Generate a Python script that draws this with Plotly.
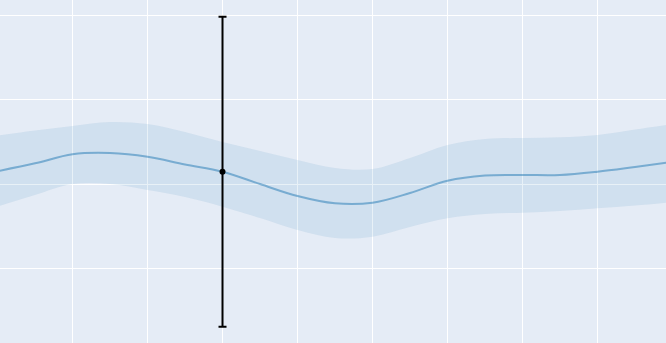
import plotly.graph_objects as go

x_vals = [0, 0.5, 1, 1.5, 2, 2.5, 3, 3.5, 4, 4.5, 5, 5.5, 6, 6.5, 7, 7.5, 8, 8.5, 9]
mean_vals = [0.154, 0.247, 0.354, 0.369, 0.325, 0.233, 0.148, 0.002, -0.140, -0.226,
             -0.219, -0.104, 0.041, 0.103, 0.109, 0.109, 0.148, 0.204, 0.263]
upper_vals = [0.576, 0.636, 0.689, 0.736, 0.712, 0.618, 0.499, 0.393, 0.286, 0.192,
              0.180, 0.310, 0.464, 0.535, 0.547, 0.555, 0.582, 0.647, 0.712]
lower_vals = [-0.264, -0.128, 0.002, 0.002, -0.069, -0.151, -0.266, -0.400, -0.542, -0.637,
              -0.621, -0.507, -0.404, -0.353, -0.337, -0.317, -0.285, -0.252, -0.211]

point_x = [3]
point_y = [0.148]
point_err = [1.835]

fig = go.Figure()
fig.add_trace(go.Scatter(x=x_vals, y=upper_vals, mode="lines",
                         line=dict(width=0, shape="spline"), showlegend=False, hoverinfo="skip"))
fig.add_trace(go.Scatter(x=x_vals, y=lower_vals, mode="lines",
                         line=dict(width=0, shape="spline"), fill="tonexty",
                         fillcolor="rgba(31,119,180,0.1)", showlegend=False, hoverinfo="skip"))
fig.add_trace(go.Scatter(x=x_vals, y=mean_vals, mode="lines",
                         line=dict(color="rgba(31,119,180,0.5)", width=2, shape="spline"),
                         showlegend=False))
fig.add_trace(go.Scatter(x=point_x, y=point_y, mode="markers",
                         marker=dict(color="black", size=6),
                         error_y=dict(type="data", array=point_err, color="black",
                                      thickness=2, width=4),
                         showlegend=False))

fig.update_layout(
    width=666, height=343,
    margin=dict(l=0, r=0, t=0, b=0),
    plot_bgcolor="#E5ECF6", paper_bgcolor="#E5ECF6",
    xaxis=dict(range=[0.0333, 8.913], dtick=1, tick0=0, showticklabels=False,
               gridcolor="white", gridwidth=1, zeroline=False, ticks=""),
    yaxis=dict(range=[-1.879, 2.180], dtick=1, tick0=0, showticklabels=False,
               gridcolor="white", gridwidth=1, zeroline=False, ticks=""),
)
fig.write_html("out.html")
